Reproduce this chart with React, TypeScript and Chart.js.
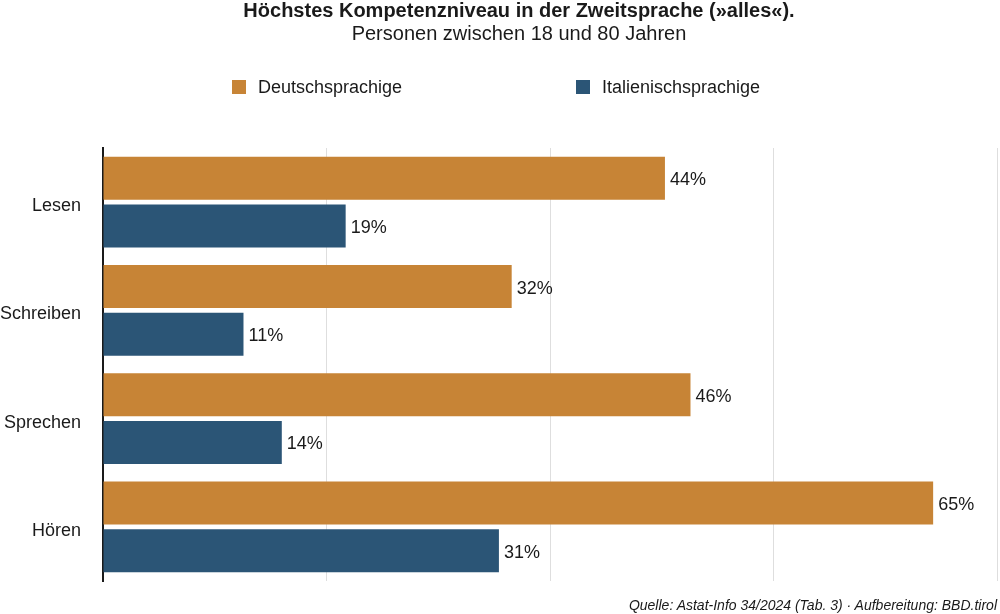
import React, { useEffect, useRef } from "react";
import { Chart, registerables } from "chart.js";

Chart.register(...registerables);

const TITLE = "Höchstes Kompetenzniveau in der Zweitsprache (»alles«).";
const SUBTITLE = "Personen zwischen 18 und 80 Jahren";
const SOURCE = "Quelle: Astat-Info 34/2024 (Tab. 3) · Aufbereitung: BBD.tirol";

const categories = ["Lesen", "Schreiben", "Sprechen", "Hören"];
const seriesNames = ["Deutschsprachige", "Italienischsprachige"];
const deutschValues = [44, 32, 46, 65];
const italienValues = [19, 11, 14, 31];
const seriesColors = ["#C78436", "#2B5576"];
const axisMax = 70;
const axisStep = 17.5;

const FONT = "'Liberation Sans', Arial, Helvetica, sans-serif";

const valueLabelPlugin = {
  id: "valueLabels",
  afterDatasetsDraw(chart: any) {
    const ctx = chart.ctx;
    ctx.save();
    ctx.font = `18px ${FONT}`;
    ctx.fillStyle = "#1a1a1a";
    ctx.textAlign = "left";
    ctx.textBaseline = "middle";
    chart.data.datasets.forEach((ds: any, i: number) => {
      const meta = chart.getDatasetMeta(i);
      meta.data.forEach((bar: any, j: number) => {
        ctx.fillText(`${ds.data[j]}%`, bar.x + 5, bar.y + 2);
      });
    });
    // category labels, positioned by the y scale
    const yScale = chart.scales.y;
    ctx.textAlign = "right";
    chart.data.labels.forEach((lab: string, i: number) => {
      ctx.fillText(lab, chart.chartArea.left - 22, yScale.getPixelForTick(i) + 4);
    });
    ctx.restore();
  },
};

export default function App() {
  const canvasRef = useRef<HTMLCanvasElement | null>(null);

  useEffect(() => {
    if (!canvasRef.current) return;
    const chart = new Chart(canvasRef.current, {
      type: "bar",
      data: {
        labels: categories,
        datasets: [
          {
            label: seriesNames[0],
            data: deutschValues,
            backgroundColor: seriesColors[0],
            categoryPercentage: 0.878,
            barPercentage: 0.905,
          },
          {
            label: seriesNames[1],
            data: italienValues,
            backgroundColor: seriesColors[1],
            categoryPercentage: 0.878,
            barPercentage: 0.905,
          },
        ],
      },
      options: {
        indexAxis: "y",
        animation: false,
        responsive: false,
        maintainAspectRatio: false,
        layout: { padding: { top: 148, bottom: 33, right: 3, left: 0 } },
        plugins: {
          legend: { display: false },
          title: { display: false },
          tooltip: { enabled: false },
        },
        scales: {
          x: {
            min: 0,
            max: axisMax,
            ticks: { display: false, stepSize: axisStep },
            grid: { color: "#dedede", lineWidth: 1, drawTicks: false },
            border: { display: false },
          },
          y: {
            afterFit(axis: any) {
              axis.width = 103;
            },
            ticks: { display: false },
            grid: { display: false, drawTicks: false },
            border: { display: true, color: "#1a1a1a", width: 2 },
          },
        },
      },
      plugins: [valueLabelPlugin],
    } as any);
    return () => chart.destroy();
  }, []);

  const legendPos = [232, 576];

  return (
    <div
      style={{
        position: "fixed",
        left: 0,
        top: 0,
        width: 1000,
        height: 614,
        background: "#fff",
        fontFamily: FONT,
        color: "#1a1a1a",
        overflow: "hidden",
      }}
    >
      <canvas
        ref={canvasRef}
        width={1000}
        height={614}
        style={{ position: "absolute", left: 0, top: 0, width: 1000, height: 614 }}
      />
      <div
        style={{
          position: "absolute",
          left: 38,
          width: 962,
          top: -1,
          lineHeight: "22px",
          fontSize: 20,
          fontWeight: "bold",
          textAlign: "center",
          whiteSpace: "nowrap",
        }}
      >
        {TITLE}
      </div>
      <div
        style={{
          position: "absolute",
          left: 38,
          width: 962,
          top: 22,
          lineHeight: "22px",
          fontSize: 20,
          textAlign: "center",
          whiteSpace: "nowrap",
        }}
      >
        {SUBTITLE}
      </div>
      {seriesNames.map((name, i) => (
        <div
          key={name}
          style={{
            position: "absolute",
            left: legendPos[i],
            top: 77,
            height: 20,
            display: "flex",
            alignItems: "center",
            fontSize: 18,
            lineHeight: "20px",
            whiteSpace: "nowrap",
          }}
        >
          <span
            style={{
              display: "inline-block",
              width: 14,
              height: 14,
              background: seriesColors[i],
              marginRight: 12,
            }}
          />
          <span>{name}</span>
        </div>
      ))}
      <div
        style={{
          position: "absolute",
          right: 3,
          top: 596,
          lineHeight: "18px",
          fontSize: 14,
          fontStyle: "italic",
          whiteSpace: "nowrap",
        }}
      >
        {SOURCE}
      </div>
    </div>
  );
}
